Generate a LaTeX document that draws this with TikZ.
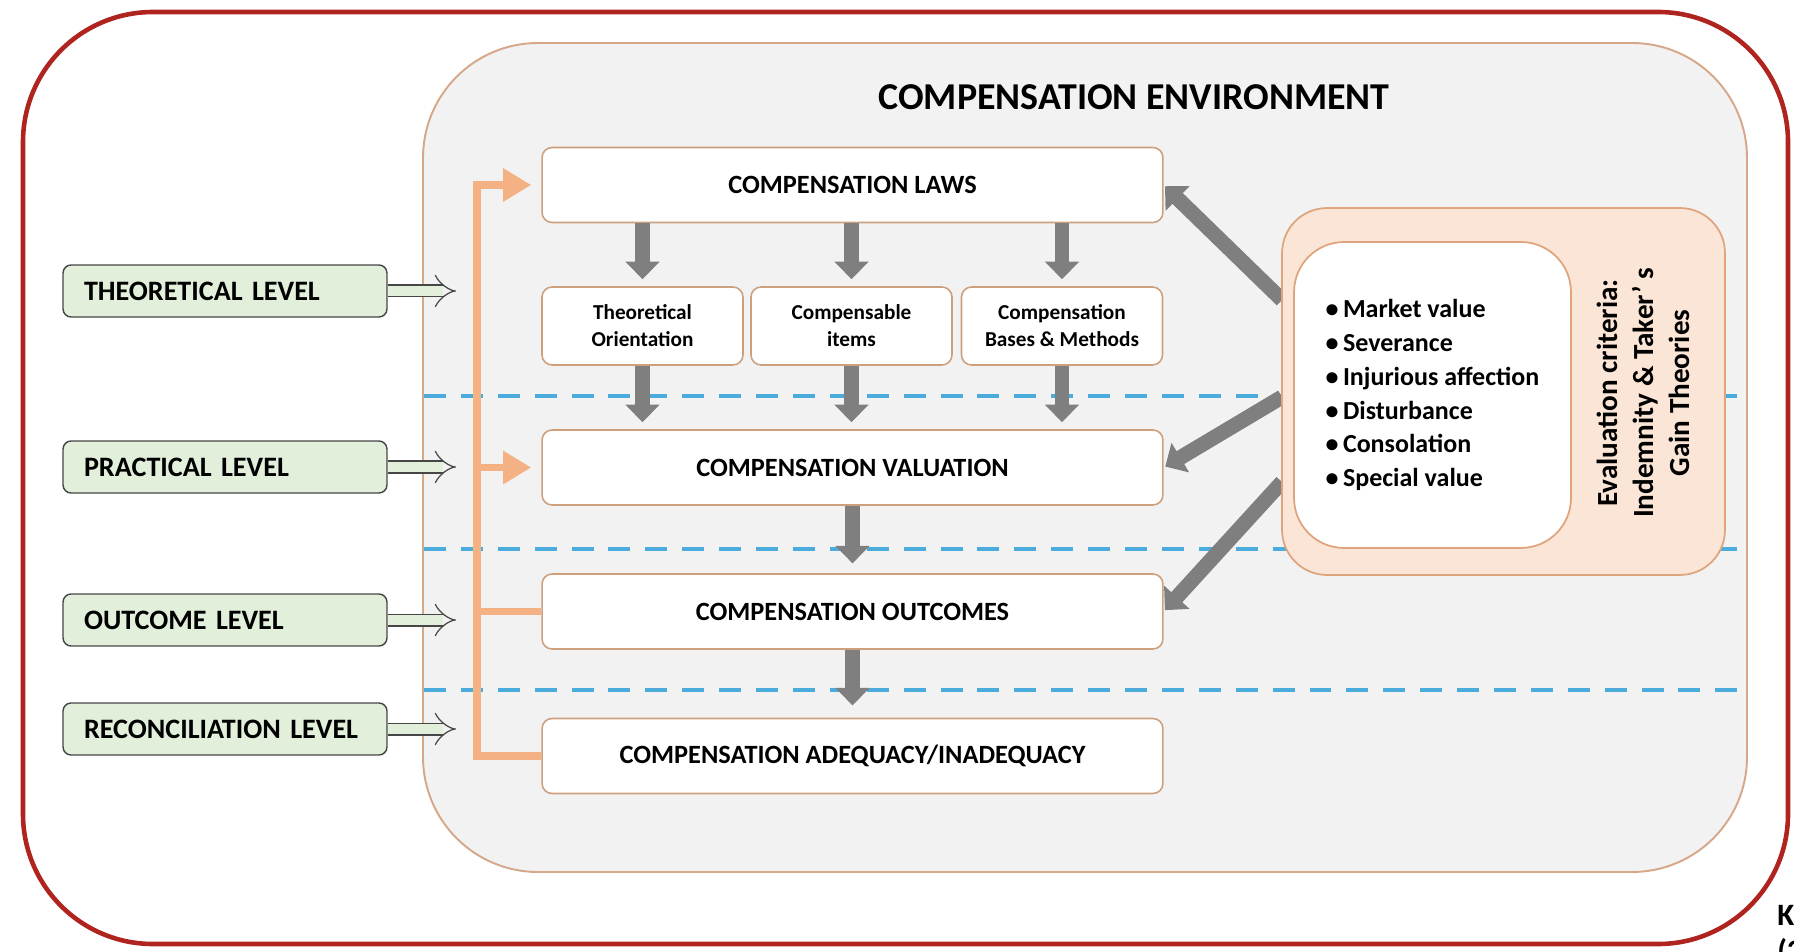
\documentclass[tikz,border=0pt]{standalone}
\usepackage{fontspec}
\setmainfont{Carlito}
\usetikzlibrary{arrows.meta,calc}
\definecolor{framered}{RGB}{176,36,32}
\definecolor{panelfill}{RGB}{242,242,242}
\definecolor{panelline}{RGB}{214,168,138}
\definecolor{boxline}{RGB}{205,160,125}
\definecolor{levelfill}{RGB}{226,239,218}
\definecolor{leveldraw}{RGB}{70,70,70}
\definecolor{busorange}{RGB}{244,177,131}
\definecolor{arrowgray}{RGB}{127,127,127}
\definecolor{dashblue}{RGB}{75,172,220}
\definecolor{evalfill}{RGB}{251,229,214}
\definecolor{evaldraw}{RGB}{222,165,125}

\begin{document}
\begin{tikzpicture}[x=0.02cm,y=-0.02cm,
		levelbox/.style={draw=leveldraw,fill=levelfill,line width=0.8pt,rounded corners=0.16cm,minimum width=6.48cm,minimum height=1.04cm,text width=5.64cm,inner xsep=0.42cm,align=left,font=\fontsize{16}{18}\selectfont\bfseries},
		mainbox/.style={draw=boxline,fill=white,line width=0.9pt,rounded corners=0.2cm,minimum width=12.42cm,minimum height=1.5cm,font=\fontsize{15}{18}\selectfont\bfseries},
		subbox/.style={mainbox,minimum width=4.02cm,minimum height=1.56cm,align=center,font=\fontsize{12.1}{15.4}\selectfont\bfseries},
		grayarrow/.style={draw=arrowgray,line width=8.5pt,-{Triangle[width=19pt,length=10pt]}},
		bus/.style={draw=busorange,line width=4pt},
		busarrow/.style={bus,-{Triangle[width=18pt,length=16pt]}},
		hollow/.style={draw=leveldraw,double=levelfill,double distance=6pt,line width=0.7pt,-{Implies[scale=1.6]}},
		dashline/.style={draw=dashblue,line width=2.8pt,dash pattern=on 12.5pt off 8.5pt}]
	\useasboundingbox (0,0) rectangle (1794,952);
	\draw[framered,line width=2.6pt,rounded corners=2.6cm] (23,12) rectangle (1788,944);
	\draw[panelline,fill=panelfill,line width=1.1pt,rounded corners=2.3cm] (423,43) rectangle (1747,872);
	\foreach \y in {396,549,690}
		\draw[dashline] (424,\y)--(1746,\y);
	\node[font=\fontsize{21.6}{26}\selectfont\bfseries] (title) at (1134,97) {COMPENSATION ENVIRONMENT};

	\node[mainbox] (laws) at (852.5,185) {COMPENSATION LAWS};
	\node[subbox] (orient) at (642.5,326) {Theoretical\\Orientation};
	\node[subbox] (items) at (851.5,326) {Compensable\\items};
	\node[subbox] (bases) at (1062,326) {Compensation\\Bases \& Methods};
	\node[mainbox] (valuation) at (852.5,467.5) {COMPENSATION VALUATION};
	\node[mainbox] (outcomes) at (852.5,611.5) {COMPENSATION OUTCOMES};
	\node[mainbox] (adequacy) at (852.5,756) {COMPENSATION ADEQUACY/INADEQUACY};

	\foreach \n in {orient,items,bases}{
		\draw[grayarrow,shorten >=4pt] (\n.north |- laws.south)--(\n.north);
		\draw[grayarrow,shorten >=4pt] (\n.south)--(\n.south |- valuation.north);
	}
	\draw[grayarrow,shorten >=5.6pt] (valuation.south)--(outcomes.north);
	\draw[grayarrow,shorten >=7pt] (outcomes.south)--(adequacy.north);

	\coordinate (evalwest) at (1282,391);
	\draw[grayarrow,shorten >=1pt] ($(evalwest)+(0,-91)$)--(laws.east);
	\draw[grayarrow,shorten >=1pt] ($(evalwest)+(0,6)$)--(valuation.east);
	\draw[grayarrow,shorten >=1pt] ($(evalwest)+(0,91)$)--(outcomes.east);
	\node[draw=evaldraw,fill=evalfill,line width=1pt,rounded corners=0.9cm,minimum width=8.86cm,minimum height=7.34cm] (eval) at (1503.5,391.5) {};
	\node[draw=evaldraw,fill=white,line width=1pt,rounded corners=1cm,minimum width=5.54cm,minimum height=6.12cm] (criteria) at (1432.5,395) {};
	\node[align=left,font=\fontsize{14.8}{19.3}\selectfont\bfseries] (valuelist) at (criteria) {\textbullet\,Market value\\\textbullet\,Severance\\\textbullet\,Injurious affection\\\textbullet\,Disturbance\\\textbullet\,Consolation\\\textbullet\,Special value};
	\node[rotate=90,align=center,font=\fontsize{16.6}{20.5}\selectfont\bfseries] (theories) at (1643,393) {Evaluation criteria:\\Indemnity \& Taker’ s\\Gain Theories};

	\coordinate (bustop) at (477,185);
	\draw[busarrow,shorten >=5.7pt] (adequacy.west) -| (bustop)--(laws.west);
	\draw[busarrow,shorten >=5.7pt] (bustop |- valuation.west)--(valuation.west);
	\draw[bus] (bustop |- outcomes.west)--(outcomes.west);

	\node[levelbox] (theo) at (225,291) {THEORETICAL LEVEL};
	\node[levelbox] (prac) at (225,467) {PRACTICAL LEVEL};
	\node[levelbox] (outc) at (225,620) {OUTCOME LEVEL};
	\node[levelbox] (reco) at (225,729) {RECONCILIATION LEVEL};
	\coordinate (arrowtips) at (456,0);
	\foreach \n in {theo,prac,outc,reco}
		\draw[hollow] (\n.east)--(\n.east -| arrowtips);

	\node[anchor=north west,inner sep=0pt,align=left,font=\fontsize{17.7}{20.5}\selectfont\bfseries] (source) at (1777,905) {K\\(2};
\end{tikzpicture}
\end{document}
